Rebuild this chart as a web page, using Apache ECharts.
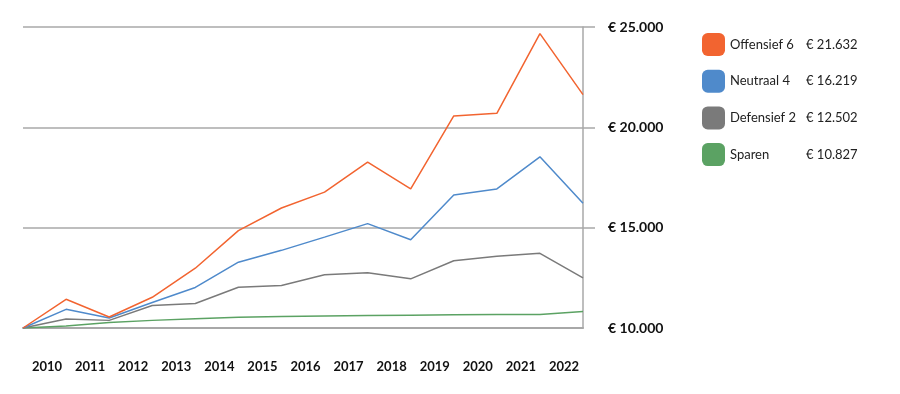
<!DOCTYPE html>
<html>
<head>
<meta charset="utf-8">
<script src="https://cdn.jsdelivr.net/npm/echarts@6/dist/echarts.min.js"></script>
<style>
html,body{margin:0;padding:0;background:#fff;}
#chart{width:900px;height:394px;}
</style>
</head>
<body>
<div id="chart"></div>
<script>
var years = ['2010','2011','2012','2013','2014','2015','2016','2017','2018','2019','2020','2021','2022'];
var seriesNames = ['Offensief 6','Neutraal 4','Defensief 2','Sparen'];
var finalValues = ['€ 21.632','€ 16.219','€ 12.502','€ 10.827'];
var offensief = [10000,11430,10550,11530,12980,14850,15980,16770,18270,16930,20570,20700,24670,21632];
var neutraal  = [10000,10930,10500,11270,12020,13280,13870,14530,15200,14400,16630,16930,18530,16219];
var defensief = [10000,10450,10380,11120,11220,12030,12120,12650,12750,12450,13350,13570,13720,12502];
var sparen    = [10000,10100,10280,10380,10460,10530,10570,10600,10620,10640,10660,10670,10670,10827];
var yTicks = [10000,15000,20000,25000];

var colors = ['#F26430','#4F8ACB','#7A7A7A','#5BA263'];
var allData = [offensief, neutraal, defensief, sparen];

function fmt(v){ return '€ ' + String(v).replace(/\B(?=(\d{3})+(?!\d))/g, '.'); }

var chart = echarts.init(document.getElementById('chart'));
var series = allData.map(function(d, k){
  return {
    name: seriesNames[k],
    type: 'line',
    xAxisIndex: 1,
    data: d.map(function(v, i){ return [i, v]; }),
    symbol: 'none',
    lineStyle: {color: colors[k], width: 1.5},
    itemStyle: {color: colors[k]},
    z: 10 - k
  };
});
chart.setOption({
  animation: false,
  textStyle: {fontFamily: 'Lato'},
  grid: {left: 23, right: 317, top: 27, bottom: 66},
  legend: {
    orient: 'vertical',
    left: 697, top: 28,
    itemWidth: 23, itemHeight: 23, itemGap: 13.7,
    icon: 'roundRect',
    data: seriesNames,
    formatter: function(name){
      var i = seriesNames.indexOf(name);
      return '{n|' + name + '}{v|' + finalValues[i] + '}';
    },
    textStyle: {
      fontFamily: 'Lato',
      fontSize: 13,
      color: '#222',
      rich: {
        n: {width: 76, fontSize: 13, fontFamily: 'Lato', color: '#222'},
        v: {fontSize: 13, fontFamily: 'Lato', color: '#222'}
      }
    }
  },
  xAxis: [{
    type: 'category',
    data: years,
    boundaryGap: true,
    axisLine: {show: true, onZero: false, lineStyle: {color: '#a8a8a8', width: 2}},
    axisTick: {show: false},
    splitLine: {show: false},
    axisLabel: {margin: 32, padding: [0,0,0,5], fontSize: 13, fontWeight: 'bold', color: '#111', fontFamily: 'Lato'}
  }, {
    type: 'value',
    min: 0, max: 13,
    show: false,
    axisLine: {show: false, onZero: false},
    axisTick: {show: false},
    axisLabel: {show: false},
    splitLine: {show: false}
  }],
  yAxis: {
    type: 'value',
    position: 'right',
    min: 10000, max: 25000, interval: 5000,
    axisLine: {show: true, onZero: false, lineStyle: {color: '#a8a8a8', width: 1.5}},
    axisTick: {show: true, length: 12, lineStyle: {color: '#a8a8a8', width: 1.5}, customValues: [15000,20000,25000]},
    splitLine: {show: true, lineStyle: {color: '#a8a8a8', width: 1.5}},
    axisLabel: {
      customValues: yTicks,
      margin: 25, fontSize: 14, fontWeight: 'bold', color: '#111', fontFamily: 'Lato',
      formatter: fmt
    }
  },
  series: series
});
</script>
</body>
</html>
